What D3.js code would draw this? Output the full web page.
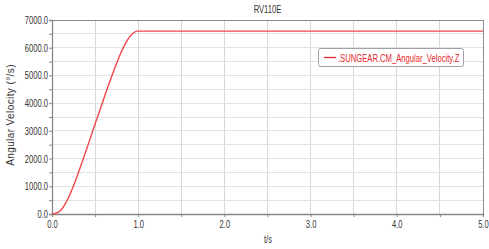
<!DOCTYPE html>
<html><head><meta charset="utf-8">
<script src="https://cdn.jsdelivr.net/npm/d3@7"></script>
<style>body{margin:0;background:#fff}svg{display:block;font-family:"Liberation Sans",Arial,sans-serif}</style>
</head><body><svg id="c" width="489" height="249"></svg>
<script>
const title = "RV110E";
const seriesName = ".SUNGEAR.CM_Angular_Velocity.Z";
const times = [0, 0.05, 0.1, 0.15, 0.2, 0.25, 0.3, 0.35, 0.4, 0.45, 0.5, 0.55, 0.6, 0.65, 0.7, 0.75, 0.8, 0.85, 0.9, 0.95, 1.0, 2.0, 3.0, 4.0, 5.0];
const values = [0, 35, 130, 350, 650, 1020, 1440, 1880, 2330, 2790, 3250, 3700, 4150, 4600, 5030, 5440, 5820, 6140, 6390, 6550, 6600, 6600, 6600, 6600, 6600];
const xTickLabels = [0, 1, 2, 3, 4, 5];
const yTickLabels = [0, 1000, 2000, 3000, 4000, 5000, 6000, 7000];

const SX = 0.76;
const svg = d3.select("#c");
const m = {l: 52, r: 483, t: 20, b: 214};
const x = d3.scaleLinear().domain([0, 5]).range([m.l, m.r]);
const y = d3.scaleLinear().domain([0, 7000]).range([m.b, m.t]);

// grid
const g = svg.append("g");
g.selectAll(".vx").data(d3.range(0.5, 5.01, 0.5)).enter().append("line")
  .attr("x1", d => x(d)).attr("x2", d => x(d)).attr("y1", m.t).attr("y2", m.b)
  .attr("stroke", "#d8d8d8").attr("stroke-width", 1).attr("shape-rendering", "crispEdges");
g.selectAll(".hy").data(d3.range(500, 7000, 500)).enter().append("line")
  .attr("y1", d => y(d)).attr("y2", d => y(d)).attr("x1", m.l).attr("x2", m.r)
  .attr("stroke", "#e2e2e2").attr("stroke-width", 1).attr("shape-rendering", "crispEdges");

// frame top/right
svg.append("line").attr("x1", m.l).attr("x2", m.r).attr("y1", m.t).attr("y2", m.t).attr("stroke", "#8a8a9a").attr("shape-rendering", "crispEdges");
svg.append("line").attr("x1", m.r).attr("x2", m.r).attr("y1", m.t).attr("y2", m.b).attr("stroke", "#8a8a9a").attr("shape-rendering", "crispEdges");

// axes
const xAxis = d3.axisBottom(x).tickValues(d3.range(0, 5.01, 0.5)).tickSize(3)
  .tickFormat(d => xTickLabels.includes(d) ? d3.format(".1f")(d) : "");
const yAxis = d3.axisLeft(y).tickValues(d3.range(0, 7001, 500)).tickSize(3)
  .tickFormat(d => yTickLabels.includes(d) ? d3.format(".1f")(d) : "");
const gx = svg.append("g").attr("transform", `translate(0,${m.b})`).call(xAxis);
const gy = svg.append("g").attr("transform", `translate(${m.l},0)`).call(yAxis);
[gx, gy].forEach(a => {
  a.select(".domain").attr("stroke", "#888").attr("stroke-width", 1.3);
  a.selectAll(".tick line").attr("stroke", "#888");
  a.selectAll("text").attr("fill", "#333").attr("font-size", 10).attr("font-family", "Liberation Sans, Arial, sans-serif")
    .attr("transform", `scale(${SX},1)`);
});
gx.selectAll("text").attr("y", 5).attr("dy", "0.9em");
gy.selectAll("text").attr("x", -4 / SX).attr("dy", "0.35em");

// line
const data = times.map((t, i) => ({t, v: values[i]}));
svg.append("path").datum(data)
  .attr("fill", "none").attr("stroke", "#f0474a").attr("stroke-width", 1.4)
  .attr("d", d3.line().x(d => x(d.t)).y(d => y(d.v)).curve(d3.curveMonotoneX));

// title and labels
svg.append("g").attr("transform", `translate(${(m.l + m.r) / 2},13) scale(${SX},1)`)
  .append("text").attr("text-anchor", "middle").attr("font-size", 10).attr("fill", "#333").text(title);
svg.append("g").attr("transform", `translate(268,243) scale(${SX},1)`)
  .append("text").attr("text-anchor", "middle").attr("font-size", 10).attr("fill", "#333").text("t/s");
svg.append("text").attr("transform", "translate(14,115) rotate(-90)").attr("text-anchor", "middle")
  .attr("font-size", 10).attr("fill", "#333").attr("letter-spacing", 0.4).text("Angular Velocity (°/s)");

// legend
const lg = svg.append("g");
lg.append("rect").attr("x", 318.5).attr("y", 48.5).attr("width", 145).attr("height", 18).attr("rx", 2)
  .attr("fill", "#fff").attr("stroke", "#a0a0a8");
lg.append("line").attr("x1", 324).attr("x2", 336).attr("y1", 57.5).attr("y2", 57.5).attr("stroke", "#e8262a").attr("stroke-width", 1.3);
lg.append("g").attr("transform", "translate(338,61.5) scale(0.695,1)")
  .append("text").attr("font-size", 11).attr("fill", "#e8262a").text(seriesName);
</script></body></html>
